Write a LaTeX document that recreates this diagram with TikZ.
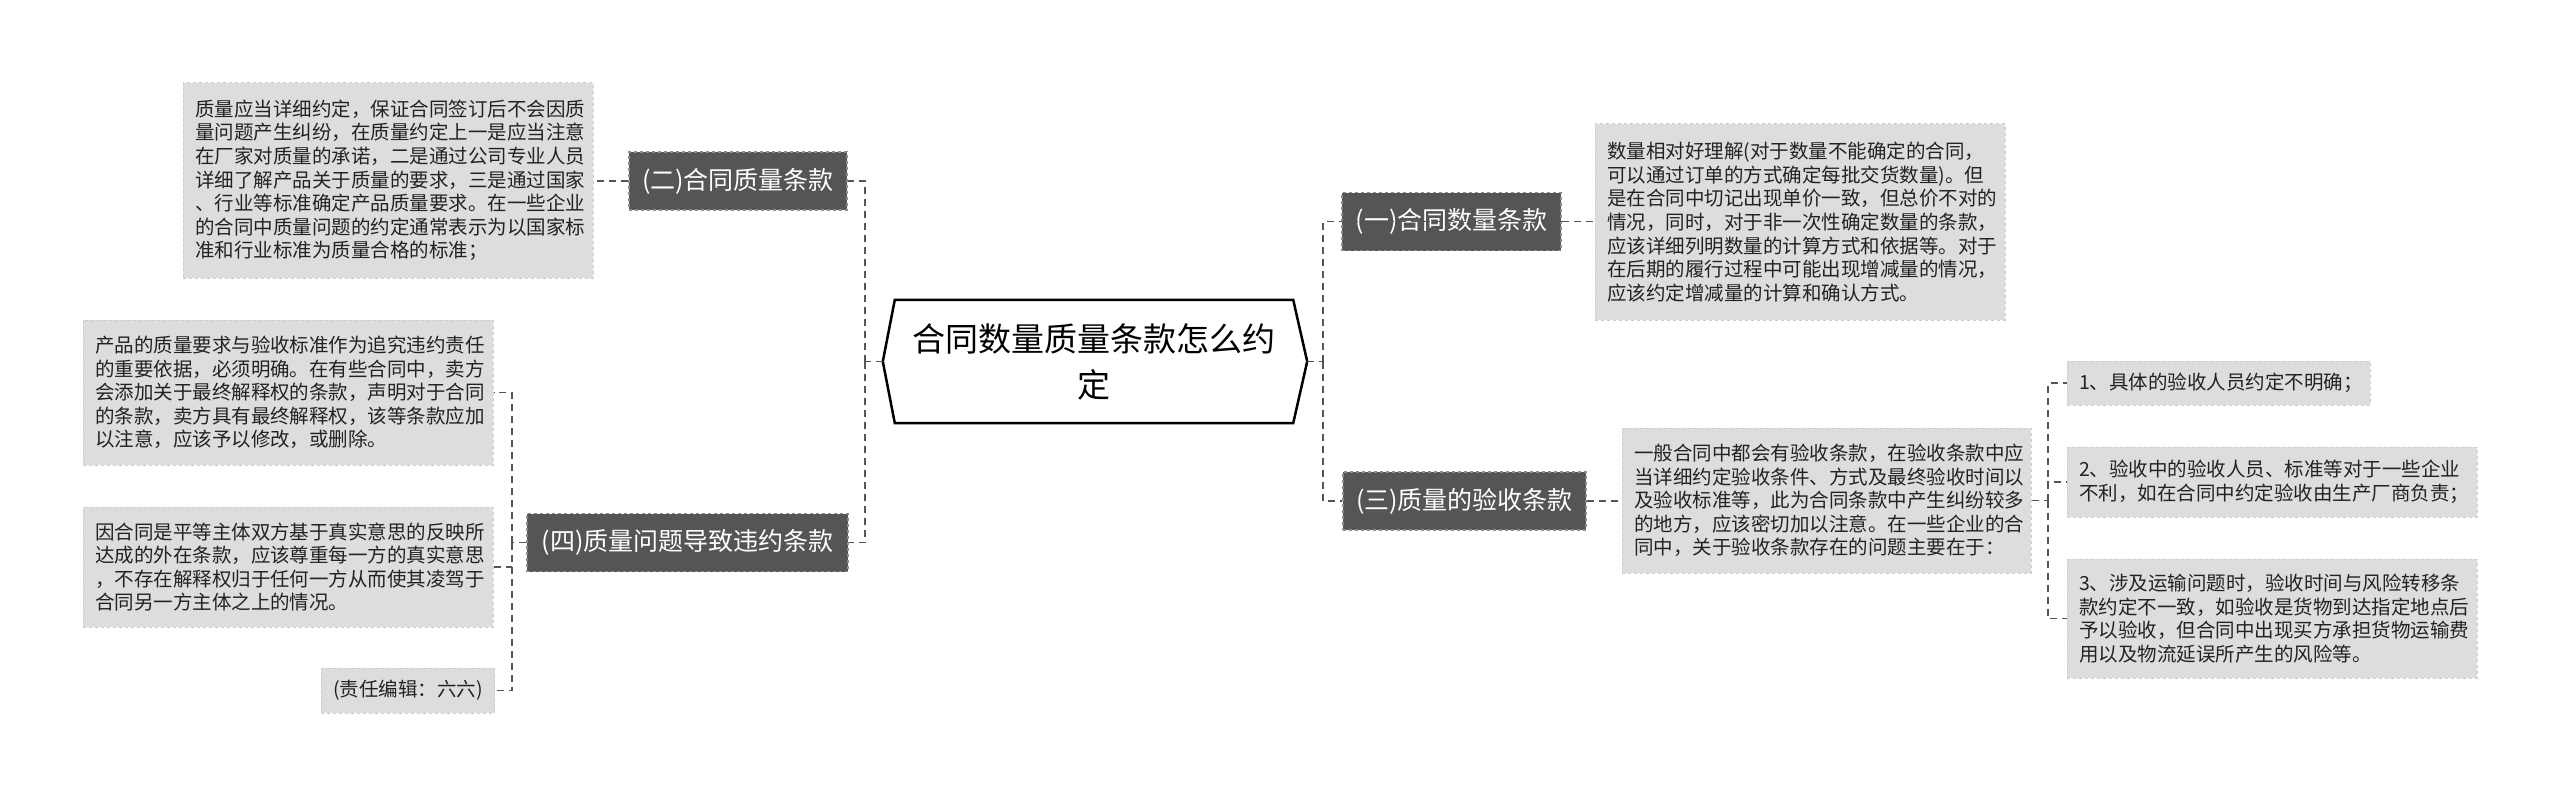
\documentclass[tikz,border=0pt]{standalone}
\usepackage{fontspec}
\newfontfamily\cjk{Noto Sans CJK SC}
\definecolor{darkfill}{HTML}{555555}
\definecolor{darkedge}{HTML}{8C8C8C}
\definecolor{lightfill}{HTML}{DDDDDD}
\definecolor{lightedge}{HTML}{CDCDCD}
\definecolor{linkc}{HTML}{555555}
\definecolor{notetext}{HTML}{222222}
\begin{document}
\begin{tikzpicture}[x=1pt,y=-1pt,
  topic/.style={fill=darkfill, draw=darkedge, dashed, line width=1.2pt, text=white,
    font=\cjk\fontsize{25}{30}\selectfont, inner sep=0pt, minimum height=58pt},
  note/.style={fill=lightfill, draw=lightedge, dashed, line width=1pt, text=notetext,
    font=\cjk\fontsize{19.5}{23.6}\selectfont, align=left, inner xsep=12pt, inner ysep=0pt},
  link/.style={draw=linkc, line width=1.8pt, dash pattern=on 7pt off 5pt}]
\useasboundingbox (0,0) rectangle (2560,797);
\fill[white] (0,0) rectangle (2560,797);

% central node
\node[inner sep=0pt, minimum width=398pt, minimum height=123pt, align=center,
  font=\cjk\fontsize{33}{46}\selectfont] (c) at (1094,361.5) {合同数量质量条款怎么约\\定};
\coordinate (cl) at ([xshift=-12pt]c.west);
\coordinate (cr) at ([xshift=14pt]c.east);
\draw[line width=2.5pt, line join=miter, fill=none] (c.north west) -- (c.north east) -- (cr) -- (c.south east) -- (c.south west) -- (cl) -- cycle;

% level-1 topics
\node[topic, minimum width=218pt] (b2) at (738,181) {(二)合同质量条款};
\node[topic, minimum width=321pt] (b4) at (687.5,542.5) {(四)质量问题导致违约条款};
\node[topic, minimum width=219pt] (b1) at (1451.5,221.5) {(一)合同数量条款};
\node[topic, minimum width=243pt] (b3) at (1464.5,501) {(三)质量的验收条款};

% notes left
\node[note, text width=386pt, minimum height=195pt] (t1) at (388,180.5) {质量应当详细约定，保证合同签订后不会因质\\量问题产生纠纷，在质量约定上一是应当注意\\在厂家对质量的承诺，二是通过公司专业人员\\详细了解产品关于质量的要求，三是通过国家\\、行业等标准确定产品质量要求。在一些企业\\的合同中质量问题的约定通常表示为以国家标\\准和行业标准为质量合格的标准；};
\node[note, text width=386pt, minimum height=145pt] (t2) at (288,392.5) {产品的质量要求与验收标准作为追究违约责任\\的重要依据，必须明确。在有些合同中，卖方\\会添加关于最终解释权的条款，声明对于合同\\的条款，卖方具有最终解释权，该等条款应加\\以注意，应该予以修改，或删除。};
\node[note, text width=386pt, minimum height=120pt] (t3) at (288,567) {因合同是平等主体双方基于真实意思的反映所\\达成的外在条款，应该尊重每一方的真实意思\\，不存在解释权归于任何一方从而使其凌驾于\\合同另一方主体之上的情况。};
\node[note, align=center, minimum width=170pt, minimum height=45pt] (t4) at (408,690.5) {(责任编辑：六六)};

% notes right
\node[note, text width=386pt, minimum height=196pt] (t5) at (1800,222) {数量相对好理解(对于数量不能确定的合同，\\可以通过订单的方式确定每批交货数量)。但\\是在合同中切记出现单价一致，但总价不对的\\情况，同时，对于非一次性确定数量的条款，\\应该详细列明数量的计算方式和依据等。对于\\在后期的履行过程中可能出现增减量的情况，\\应该约定增减量的计算和确认方式。};
\node[note, text width=385pt, minimum height=145pt] (t6) at (1826.5,500.5) {一般合同中都会有验收条款，在验收条款中应\\当详细约定验收条件、方式及最终验收时间以\\及验收标准等，此为合同条款中产生纠纷较多\\的地方，应该密切加以注意。在一些企业的合\\同中，关于验收条款存在的问题主要在于：};
\node[note, text width=279pt, minimum height=44pt] (t7) at (2218.5,383) {1、具体的验收人员约定不明确；};
\node[note, text width=386pt, minimum height=70pt] (t8) at (2272,482) {2、验收中的验收人员、标准等对于一些企业\\不利，如在合同中约定验收由生产厂商负责；};
\node[note, text width=386pt, minimum height=119pt] (t9) at (2272,618.5) {3、涉及运输问题时，验收时间与风险转移条\\款约定不一致，如验收是货物到达指定地点后\\予以验收，但合同中出现买方承担货物运输费\\用以及物流延误所产生的风险等。};

% junctions
\coordinate (jl) at (865,361.5);
\coordinate (jr) at (1323,361.5);
\coordinate (j4) at (512,542.5);
\coordinate (j6) at (2048,500.5);

% connectors
\draw[link] (cl) -- (jl);
\draw[link] (jl) |- (b2.east);
\draw[link] (jl) |- (b4.east);
\draw[link] (cr) -- (jr);
\draw[link] (jr) |- (b1.east);
\draw[link] (jr) |- (b3.west);
\draw[link] (b2.west) -- (b2.west -| t1.east);
\draw[link] (b4.west) -- (j4);
\draw[link] (j4) |- (t2.east);
\draw[link] (j4) |- (t3.east);
\draw[link] (j4) |- (t4.east);
\draw[link] (b1.east) -- (b1.east -| t5.west);
\draw[link] (b3.east) -- (b3.east -| t6.west);
\draw[link] (t6.east) -- (j6);
\draw[link] (j6) |- (t7.west);
\draw[link] (j6) |- (t8.west);
\draw[link] (j6) |- (t9.west);
\end{tikzpicture}
\end{document}
